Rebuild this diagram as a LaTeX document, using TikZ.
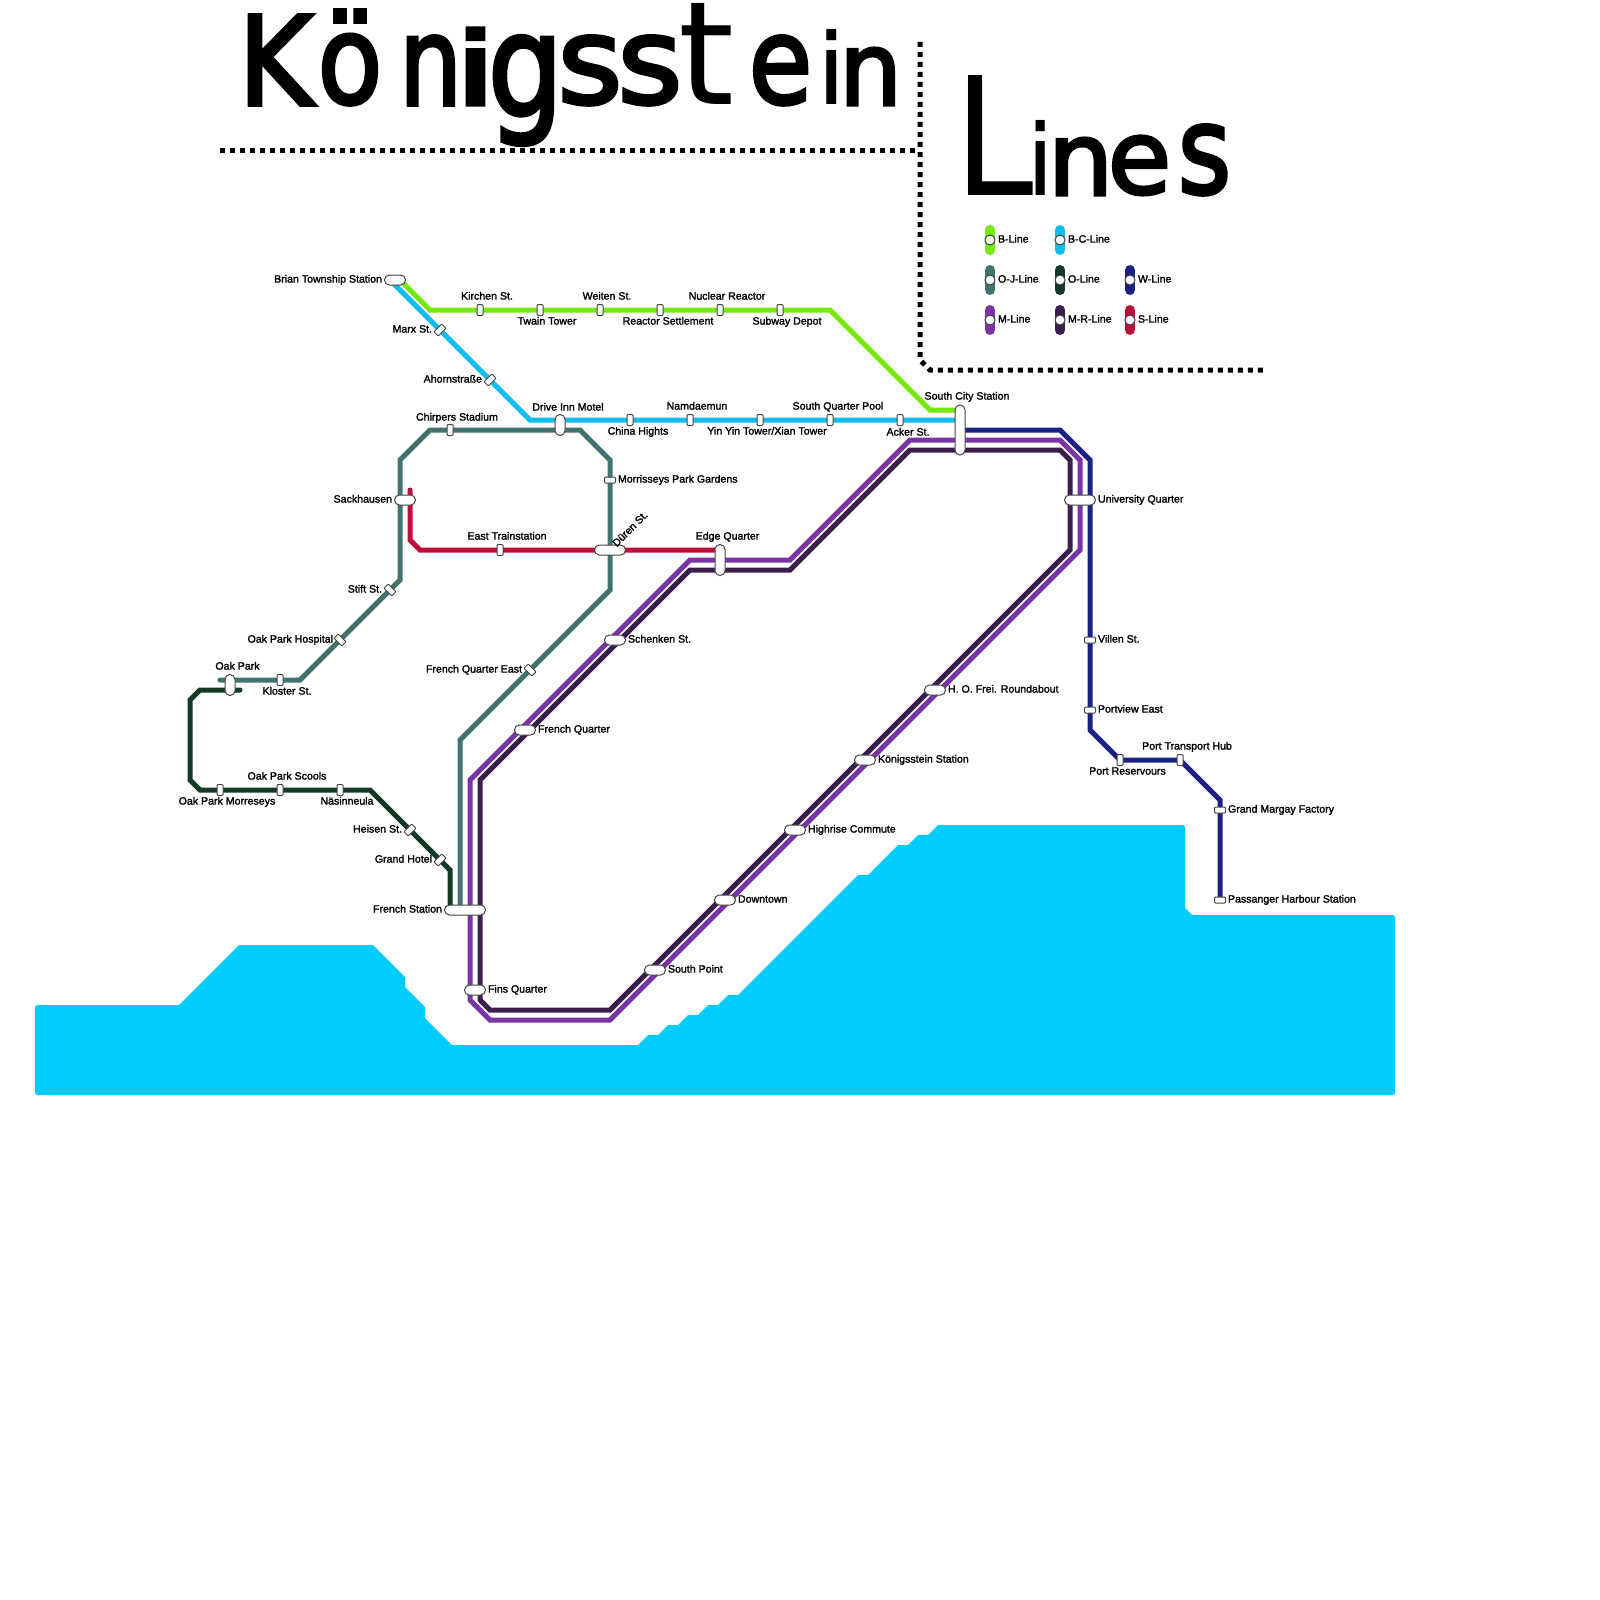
\documentclass[tikz,border=0pt]{standalone}
\usepackage{fontspec}
\usepackage{graphicx}
\setmainfont{Liberation Sans}[FakeBold=1.8]
\newfontfamily\ttlfont{DejaVu Sans}[FakeBold=3]
\newfontfamily\ttlthin{DejaVu Sans}
\pgfdeclarelayer{lines}
\pgfdeclarelayer{sea}
\pgfsetlayers{sea,lines,main}
\definecolor{cB}{HTML}{76EA0E}
\definecolor{cBC}{HTML}{12BDEE}
\definecolor{cOJ}{HTML}{41736F}
\definecolor{cO}{HTML}{133A26}
\definecolor{cW}{HTML}{1A2183}
\definecolor{cM}{HTML}{7B34A3}
\definecolor{cMR}{HTML}{3A1F4C}
\definecolor{cS}{HTML}{BC0F3A}
\definecolor{cSea}{HTML}{00CCFF}
\definecolor{cEdge}{HTML}{444444}
\tikzset{
  metro/.style={line width=5pt,line join=miter,line cap=butt},
  endround/.style={line cap=round},
  stationbase/.style={draw=cEdge,fill=white,line width=1pt,inner sep=0pt,outer sep=0pt},
  stv/.style={stationbase,minimum width=6pt,minimum height=11pt,rounded corners=1pt},
  sth/.style={stationbase,minimum width=11pt,minimum height=6pt,rounded corners=1pt},
  stbs/.style={sth,rotate=45},
  stfs/.style={sth,rotate=-45},
  pillv/.style={stationbase,minimum width=10pt,minimum height=#1,rounded corners=4.9pt},
  pillh/.style={stationbase,minimum height=10pt,minimum width=#1,rounded corners=4.9pt},
  lbl/.style={inner sep=0pt,outer sep=0pt,font=\fontsize{10.6pt}{12pt}\selectfont,text height=7.2pt,text depth=0pt},
  ll/.style={lbl,anchor=west},
  lr/.style={lbl,anchor=east},
  lc/.style={lbl,anchor=center},
  dotline/.style={line width=5pt,dash pattern=on 5pt off 5pt,black},
  legendpill/.style={line width=10pt,line cap=round},
  legenddot/.style={circle,draw=cEdge,fill=white,line width=1pt,minimum size=10pt,inner sep=0pt},
  ttl/.style={inner sep=0pt,outer sep=0pt,anchor=south west}
}
\newcommand{\ttlch}[6]{\node[ttl] (#1) at (#2,#3) {\resizebox*{#4pt}{#5pt}{\ttlfont\hspace{-0.06em}#6\hspace{-0.06em}}};}
\newcommand{\ttlbar}[6]{\node[ttl] (#1) at (#2,#3) {\resizebox*{#4pt}{#5pt}{\ttlfont\hspace{-0.075em}#6\hspace{-0.075em}}};}
\newcommand{\ttlnarrow}[6]{\node[ttl] (#1) at (#2,#3) {\resizebox*{#4pt}{#5pt}{\ttlthin\hspace{-0.075em}#6\hspace{-0.075em}}};}
\newcommand{\ttlplain}[6]{\node[ttl] (#1) at (#2,#3) {\resizebox*{#4pt}{#5pt}{\ttlthin #6}};}
\newcommand{\legenditem}[5]{%
  \coordinate (#1a) at (#2,#3-10);
  \coordinate (#1b) at (#2,#3+10);
  \draw[legendpill,#4] (#1a) -- (#1b);
  \node[legenddot] (#1d) at (#2,#3) {};
  \node[ll] (#1t) at (#2+8,#3-1) {#5};
}
\begin{document}
\begin{tikzpicture}[x=1pt,y=-1pt]
\useasboundingbox (0,0) rectangle (1600,1600);

% water
\begin{pgfonlayer}{sea}
\fill[white] (0,0) rectangle (1600,1600);
\fill[cSea] (179,1005) -- (239,945) -- (373,945) -- (405,977) -- (405,987) -- (425,1007) -- (425,1018) -- (452,1045) -- (638,1045) -- (648,1035) -- (658,1035) -- (668,1025) -- (678,1025) -- (688,1015) -- (698,1015) -- (708,1005) -- (718,1005) -- (728,995) -- (738,995) -- (858,875) -- (868,875) -- (898,845) -- (908,845) -- (918,835) -- (928,835) -- (938,825) -- (1183,825) -- (1185,827) -- (1185,908) -- (1192,915) -- (1393,915) -- (1395,917) -- (1395,1093) -- (1393,1095) -- (37,1095) -- (35,1093) -- (35,1007) -- (37,1005) -- cycle;
\end{pgfonlayer}

% title
\ttlch{k1}{245}{105}{61}{90}{K}
\ttlch{k2}{324}{105}{52}{95}{ö}
\ttlch{k3}{405}{105}{51}{69}{n}
\ttlbar{k4}{465}{105}{21}{77}{i}
\ttlch{k5}{495}{145}{61}{109}{g}
\ttlch{k6}{565}{105}{50}{69}{s}
\ttlch{k7}{625}{105}{50}{69}{s}
\ttlplain{k8}{678}{105}{56}{101}{t}
\ttlch{k9}{755}{105}{51}{69}{e}
\ttlnarrow{k10}{825}{105}{14}{75}{i}
\ttlch{k11}{845}{105}{51}{57}{n}
\ttlnarrow{l1}{965}{195}{58}{120}{L}
\ttlnarrow{l2}{1034}{195}{13}{75}{i}
\ttlch{l3}{1054}{195}{53}{57}{n}
\ttlch{l4}{1114}{195}{51}{59}{e}
\ttlch{l5}{1184}{195}{41}{70}{s}

% dotted rules
\coordinate (da) at (220,150);
\coordinate (db) at (917,150);
\coordinate (dc) at (920,42);
\coordinate (dd) at (920,360);
\coordinate (de) at (930,370);
\coordinate (df) at (1267,370);
\draw[dotline] (da) -- (db);
\draw[dotline] (dc) -- (dd) -- (de) -- (df);

% legend
\legenditem{lga}{990}{240}{cB}{B-Line}
\legenditem{lgb}{1060}{240}{cBC}{B-C-Line}
\legenditem{lgc}{990}{280}{cOJ}{O-J-Line}
\legenditem{lgd}{1060}{280}{cO}{O-Line}
\legenditem{lge}{1130}{280}{cW}{W-Line}
\legenditem{lgf}{990}{320}{cM}{M-Line}
\legenditem{lgg}{1060}{320}{cMR}{M-R-Line}
\legenditem{lgh}{1130}{320}{cS}{S-Line}

% stations
\node[pillh=21pt] (brian) at (395,280) {};
\node[stv] (kirchen) at (480,310) {};
\node[stv] (twain) at (540,310) {};
\node[stv] (weiten) at (600,310) {};
\node[stv] (reactor) at (660,310) {};
\node[stv] (nuclear) at (720,310) {};
\node[stv] (subway) at (780,310) {};
\node[pillv=50pt] (southcity) at (960,430) {};
\node[stbs] (marx) at (440,330) {};
\node[stbs] (ahorn) at (490,380) {};
\node[pillv=21pt] (driveinn) at (560,425) {};
\node[stv] (china) at (630,420) {};
\node[stv] (namd) at (690,420) {};
\node[stv] (yinyin) at (760,420) {};
\node[stv] (sqpool) at (830,420) {};
\node[stv] (acker) at (900,420) {};
\node[stv] (chirpers) at (450,430) {};
\node[sth] (morr) at (610,480) {};
\node[pillh=21pt] (sack) at (405,500) {};
\node[stv] (east) at (500,550) {};
\node[pillh=31pt] (dueren) at (610,550) {};
\node[pillv=31pt] (edge) at (720,560) {};
\node[stfs] (stift) at (390,590) {};
\node[stfs] (hospital) at (340,640) {};
\node[pillv=21pt] (oakpark) at (230,685) {};
\node[stv] (kloster) at (280,680) {};
\node[stfs] (fqe) at (530,670) {};
\node[stv] (morreseys) at (220,790) {};
\node[stv] (scools) at (280,790) {};
\node[stv] (nasi) at (340,790) {};
\node[stbs] (heisen) at (410,830) {};
\node[stbs] (grand) at (440,860) {};
\node[pillh=41pt] (french) at (465,910) {};
\node[pillh=21pt] (fins) at (475,990) {};
\node[pillh=21pt] (fq) at (525,730) {};
\node[pillh=21pt] (schenken) at (615,640) {};
\node[pillh=31pt] (univ) at (1080,500) {};
\node[pillh=21pt] (frei) at (935,690) {};
\node[pillh=21pt] (koenig) at (865,760) {};
\node[pillh=21pt] (highrise) at (795,830) {};
\node[pillh=21pt] (downtown) at (725,900) {};
\node[pillh=21pt] (southpt) at (655,970) {};
\node[sth] (villen) at (1090,640) {};
\node[sth] (portview) at (1090,710) {};
\node[stv] (reserv) at (1120,760) {};
\node[stv] (hub) at (1180,760) {};
\node[sth] (margay) at (1220,810) {};
\node[sth] (harbour) at (1220,900) {};

% bends
\coordinate (g0) at (400,280);
\coordinate (g1) at (430,310);
\coordinate (g2) at (830,310);
\coordinate (g3) at (930,410);
\coordinate (g4) at (960,410);
\coordinate (b0) at (390,280);
\coordinate (b1) at (530,420);
\coordinate (b2) at (960,420);
\coordinate (j0) at (220,680);
\coordinate (j1) at (300,680);
\coordinate (j2) at (400,580);
\coordinate (j3) at (400,460);
\coordinate (j4) at (430,430);
\coordinate (j5) at (580,430);
\coordinate (j6) at (610,460);
\coordinate (j7) at (610,590);
\coordinate (j8) at (460,740);
\coordinate (j9) at (460,908);
\coordinate (o0) at (240,690);
\coordinate (o1) at (200,690);
\coordinate (o2) at (190,700);
\coordinate (o3) at (190,780);
\coordinate (o4) at (200,790);
\coordinate (o5) at (370,790);
\coordinate (o6) at (450,870);
\coordinate (o7) at (450,908);
\coordinate (s0) at (410,490);
\coordinate (s1) at (410,540);
\coordinate (s2) at (420,550);
\coordinate (s3) at (720,550);
\coordinate (w0) at (960,430);
\coordinate (w1) at (1060,430);
\coordinate (w2) at (1090,460);
\coordinate (w3) at (1090,730);
\coordinate (w4) at (1120,760);
\coordinate (w5) at (1180,760);
\coordinate (w6) at (1220,800);
\coordinate (w7) at (1220,900);
\coordinate (m1) at (910,440);
\coordinate (m2) at (1060,440);
\coordinate (m3) at (1080,460);
\coordinate (m4) at (1080,550);
\coordinate (m5) at (610,1020);
\coordinate (m6) at (490,1020);
\coordinate (m7) at (470,1000);
\coordinate (m8) at (470,780);
\coordinate (m9) at (690,560);
\coordinate (m10) at (790,560);
\coordinate (r1) at (910,450);
\coordinate (r2) at (1060,450);
\coordinate (r3) at (1070,460);
\coordinate (r4) at (1070,550);
\coordinate (r5) at (610,1010);
\coordinate (r6) at (490,1010);
\coordinate (r7) at (480,1000);
\coordinate (r8) at (480,780);
\coordinate (r9) at (690,570);
\coordinate (r10) at (790,570);

\begin{pgfonlayer}{lines}
\draw[metro,cM] (m1) -- (m2) -- (m3) -- (m4) -- (m5) -- (m6) -- (m7) -- (m8) -- (m9) -- (m10) -- cycle;
\draw[metro,cMR] (r1) -- (r2) -- (r3) -- (r4) -- (r5) -- (r6) -- (r7) -- (r8) -- (r9) -- (r10) -- cycle;
\draw[metro,cW] (w0) -- (w1) -- (w2) -- (w3) -- (w4) -- (w5) -- (w6) -- (w7);
\draw[metro,cBC] (b0) -- (b1) -- (b2);
\draw[metro,cB] (g0) -- (g1) -- (g2) -- (g3) -- (g4);
\draw[metro,cOJ,endround] (j0) -- (j1) -- (j2) -- (j3) -- (j4) -- (j5) -- (j6) -- (j7) -- (j8) -- (j9);
\draw[metro,cO,endround] (o0) -- (o1) -- (o2) -- (o3) -- (o4) -- (o5) -- (o6) -- (o7);
\draw[metro,cS,endround] (s0) -- (s1) -- (s2) -- (s3);
\end{pgfonlayer}

% labels
\node[lr] (t01) at (382,279) {Brian Township Station};
\node[lc] (t02) at (487,296) {Kirchen St.};
\node[lc] (t03) at (547,321) {Twain Tower};
\node[lc] (t04) at (607,296) {Weiten St.};
\node[lc] (t05) at (668,321) {Reactor Settlement};
\node[lc] (t06) at (727,296) {Nuclear Reactor};
\node[lc] (t07) at (787,321) {Subway Depot};
\node[lr] (t08) at (432,329) {Marx St.};
\node[lr] (t09) at (482,379) {Ahornstraße};
\node[lc] (t10) at (568,407) {Drive Inn Motel};
\node[lc] (t11) at (638,431) {China Hights};
\node[lc] (t12) at (697,406) {Namdaemun};
\node[lc] (t13) at (767,431) {Yin Yin Tower/Xian Tower};
\node[lc] (t14) at (838,406) {South Quarter Pool};
\node[lc] (t15) at (908,432) {Acker St.};
\node[lc] (t16) at (967,396) {South City Station};
\node[lc] (t17) at (457,417) {Chirpers Stadium};
\node[ll] (t18) at (618,479) {Morrisseys Park Gardens};
\node[lr] (t19) at (392,499) {Sackhausen};
\node[lc] (t20) at (507,536) {East Trainstation};
\node[lc,rotate=45] (t21) at (630,529) {Düren St.};
\node[lr] (t22) at (382,589) {Stift St.};
\node[lc] (t23) at (727.5,536) {Edge Quarter};
\node[ll] (t24) at (628,639) {Schenken St.};
\node[lr] (t25) at (333,639) {Oak Park Hospital};
\node[lc] (t26) at (237.5,666) {Oak Park};
\node[lc] (t27) at (287,691) {Kloster St.};
\node[lc] (t28) at (287,776) {Oak Park Scools};
\node[lc] (t29) at (227,801) {Oak Park Morreseys};
\node[lc] (t30) at (347,801) {Näsinneula};
\node[lr] (t31) at (402,829) {Heisen St.};
\node[lr] (t32) at (432,859) {Grand Hotel};
\node[lr] (t33) at (442,909) {French Station};
\node[lr] (t34) at (522,669) {French Quarter East};
\node[ll] (t35) at (538,729) {French Quarter};
\node[ll] (t36) at (488,989) {Fins Quarter};
\node[ll] (t37) at (1098,639) {Villen St.};
\node[ll] (t38) at (1098,709) {Portview East};
\node[lc] (t39) at (1127.5,771) {Port Reservours};
\node[lc] (t40) at (1187,746) {Port Transport Hub};
\node[ll] (t41) at (1228,809) {Grand Margay Factory};
\node[ll] (t42) at (1228,899) {Passanger Harbour Station};
\node[ll] (t43) at (1098,499) {University Quarter};
\node[ll] (t44) at (948,689) {H. O. Frei. Roundabout};
\node[ll] (t45) at (878,759) {Königsstein Station};
\node[ll] (t46) at (808,829) {Highrise Commute};
\node[ll] (t47) at (738,899) {Downtown};
\node[ll] (t48) at (668,969) {South Point};
\end{tikzpicture}
\end{document}
